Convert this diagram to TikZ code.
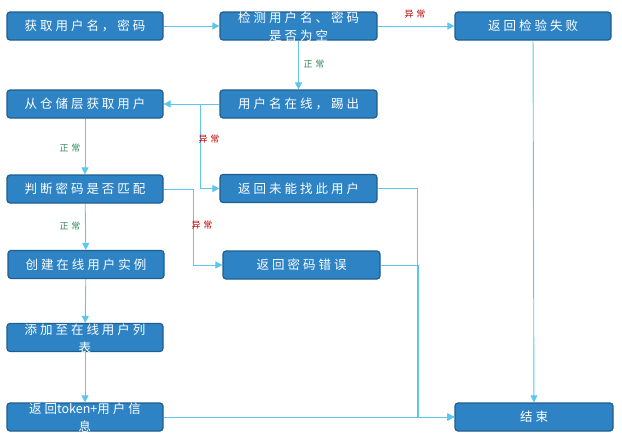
\documentclass[tikz,border=0pt]{standalone}
\usepackage{fontspec}
\usetikzlibrary{arrows.meta}
\newfontfamily\cjk[LetterSpace=24]{Noto Sans CJK SC}
\newfontfamily\cjkplain{Noto Sans CJK SC}
\newfontfamily\cjklbl[LetterSpace=30]{Noto Sans CJK SC}
\definecolor{boxfill}{HTML}{2E83C4}
\definecolor{boxborder}{HTML}{1F5E8E}
\definecolor{linecol}{HTML}{5CC6EE}
\definecolor{errred}{HTML}{C00000}
\definecolor{okgreen}{HTML}{2E8B57}
\newcommand\twol[2]{\raisebox{-10pt}{\smash{\begin{tabular}{@{}c@{}}#1\\#2\end{tabular}}}}
\tikzset{
  box/.style={draw=boxborder, fill=boxfill, line width=1.2pt, rounded corners=3pt,
    minimum width=156pt, minimum height=28pt, inner sep=0pt, text=white,
    font=\cjk\fontsize{12.5}{18}\selectfont},
  conn/.style={draw=linecol, line width=0.9pt, -{Triangle[length=7pt,width=7pt]}},
  errlbl/.style={text=errred, font=\cjklbl\fontsize{9}{10}\selectfont, inner sep=0pt},
  oklbl/.style={text=okgreen, font=\cjklbl\fontsize{9}{10}\selectfont, inner sep=0pt}
}
\begin{document}
\begin{tikzpicture}[x=1pt,y=-1pt]
\useasboundingbox (0,0) rectangle (622,440);
\node[box] (n1) at (85,26) {获取用户名，密码};
\node[box, minimum width=157pt] (n2) at (298.5,26) {\twol{检测用户名、密码}{是否为空}};
\node[box] (n3) at (533,26) {返回检验失败};
\node[box] (n4) at (85,104) {从仓储层获取用户};
\node[box, minimum width=157pt] (n5) at (298.5,104) {用户名在线，踢出};
\node[box] (n6) at (85,189) {判断密码是否匹配};
\node[box, minimum width=157pt] (n7) at (298.5,188.5) {返回未能找此用户};
\node[box] (n8) at (86,264.5) {创建在线用户实例};
\node[box, minimum width=157pt] (n9) at (301.5,265) {返回密码错误};
\node[box] (n10) at (85,337.5) {\twol{添加至在线用户列}{表}};
\node[box] (n11) at (85,417) {\twol{返回{\cjkplain token+}用户信}{息}};
\node[box, minimum width=158pt] (n12) at (534,417) {结束};

\coordinate (b1) at (200,104);
\coordinate (b2) at (193,189);
\coordinate (j1) at (417,188.5);
\coordinate (j2) at (418,265);

\draw[conn] (n1) -- (n2);
\draw[conn] (n2) -- (n3);
\draw[conn] (n2) -- (n5);
\draw[conn] (n5) -- (n4);
\draw[conn] (b1) |- (n7);
\draw[conn] (n4) -- (n6);
\draw[conn] (n6.east) -- (b2) |- (n9);
\draw[conn] (n6) -- (n8);
\draw[conn] (n8) -- (n10);
\draw[conn] (n10) -- (n11);
\draw[conn] (n11) -- (n12);
\draw[conn] (n7.east) -- (j1) |- (n12.west);
\draw[conn] (n9.east) -- (j2) |- (n12.west);
\draw[conn] (n3) -- (n12);

\node[errlbl] (l1) at (415,14) {异常};
\node[oklbl] (l2) at (314,64) {正常};
\node[errlbl] (l3) at (209,139) {异常};
\node[oklbl] (l4) at (70,148) {正常};
\node[errlbl] (l5) at (202,225) {异常};
\node[oklbl] (l6) at (70,226) {正常};
\end{tikzpicture}
\end{document}
